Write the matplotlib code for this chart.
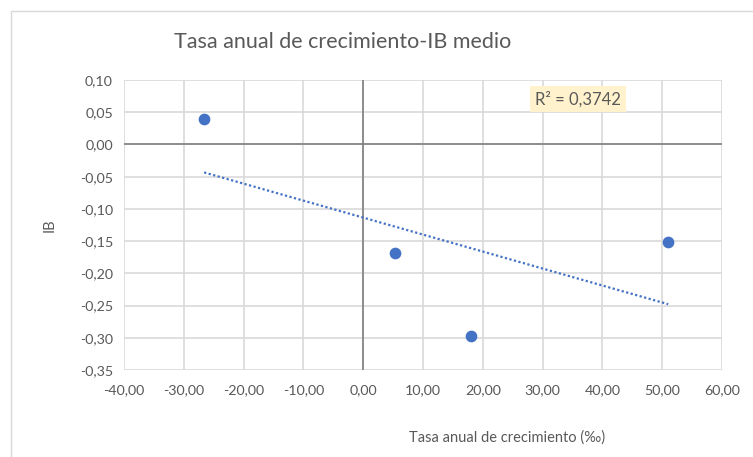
import matplotlib.pyplot as plt
import numpy as np
from matplotlib.patches import Rectangle

# ======================
# DATA
# ======================
tasa = [-26.6, 5.3, 18.1, 51.0]
ib = [0.039, -0.169, -0.298, -0.152]
r2_label = "R² = 0,3742"
x_ticks = [-40, -30, -20, -10, 0, 10, 20, 30, 40, 50, 60]
y_ticks = [0.10, 0.05, 0.00, -0.05, -0.10, -0.15, -0.20, -0.25, -0.30, -0.35]

gray_txt = '#595959'
grid_col = '#d9d9d9'
blue = '#4472c4'

plt.rcParams['font.family'] = ['Lato', 'DejaVu Sans']

fig = plt.figure(figsize=(7.53, 4.57), dpi=100)
fig.patches.append(Rectangle((11 / 753, -0.1), 1.2, 1 - 11 / 457 + 0.1,
                             transform=fig.transFigure, fill=False,
                             edgecolor=grid_col, linewidth=1))

ax = fig.add_axes([124 / 753, 1 - 370 / 457, (722 - 124) / 753, (370 - 80) / 457])

# ======================
# GRID / AXES
# ======================
ax.set_xlim(-40, 60)
ax.set_ylim(-0.35, 0.10)
ax.set_xticks(x_ticks)
ax.set_yticks(y_ticks)
ax.set_xticklabels([f"{v:.2f}".replace('.', ',') for v in x_ticks])
ax.set_yticklabels([f"{v:.2f}".replace('.', ',') for v in y_ticks])
ax.grid(True, color=grid_col, linewidth=1.2)
ax.set_axisbelow(True)
for s in ax.spines.values():
    s.set_visible(False)
ax.tick_params(length=0, labelsize=10.3, colors=gray_txt)
ax.tick_params(axis='x', pad=10)
ax.tick_params(axis='y', pad=8)
ax.axhline(0, color='#7f7f7f', linewidth=1.2, zorder=1)
ax.axvline(0, color='#7f7f7f', linewidth=1.2, zorder=1)

# ======================
# POINTS + TREND
# ======================
ax.scatter(tasa, ib, s=55, color=blue, zorder=3)
m, b = np.polyfit(tasa, ib, 1)
xs = np.array([min(tasa), max(tasa)])
ax.plot(xs, m * xs + b, color=blue, linewidth=1.6, linestyle=(0, (1, 1.1)), zorder=2)

ax.text(35.9, 0.0705, r2_label, ha='center', va='center', fontsize=12, color=gray_txt,
        bbox=dict(boxstyle='square,pad=0.3', facecolor='#fff2cc', edgecolor='none'))

# ======================
# TITLES
# ======================
fig.text(343 / 753, 1 - 42 / 457, 'Tasa anual de crecimiento-IB medio', ha='center', va='center',
         fontsize=15.5, color=gray_txt)
fig.text(507 / 753, 1 - 438 / 457, 'Tasa anual de crecimiento (‰)', ha='center', va='center',
         fontsize=10.5, color=gray_txt)
fig.text(50 / 753, 1 - 225 / 457, 'IB', ha='center', va='center', rotation=90,
         fontsize=10.5, color=gray_txt)

fig.savefig('out.png', dpi=100)
